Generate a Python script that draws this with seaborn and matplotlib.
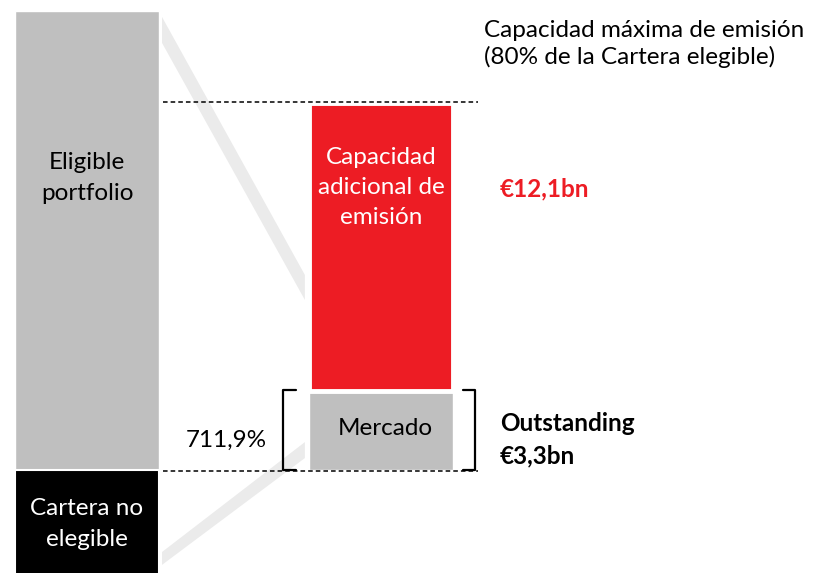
import numpy as np
import pandas as pd
import seaborn as sns
import matplotlib.pyplot as plt
from matplotlib.patches import Polygon

# valores en miles de millones de euros
columnas = ["Eligible portfolio", "Mercado"]
base = [19.25, 3.3]          # cartera elegible / emision en mercado
capacidad_adicional = 12.1   # apilado sobre Mercado
no_elegible = 4.5            # hacia abajo, recortado por el borde
cobertura = "711,9%"

gris = "#bfbfbf"
rojo = "#ed1c24"
banda = "#ebebeb"

sns.set_style("white")
plt.rcParams['font.family'] = ['Lato', 'DejaVu Sans']
plt.rcParams['text.color'] = 'black'

fig = plt.figure(figsize=(8.15, 5.73), dpi=100)
ax = fig.add_axes([0, 0, 1, 1])

# bandas diagonales de fondo
ax.add_patch(Polygon([(0.255, 19.0), (0.255, 17.91), (0.741, 7.13), (0.741, 8.18)],
                     closed=True, color=banda, lw=0, zorder=0))
ax.add_patch(Polygon([(0.255, -3.44), (0.255, -3.98), (0.741, 0.50), (0.741, 1.17)],
                     closed=True, color=banda, lw=0, zorder=0))

df = pd.DataFrame({"col": columnas, "valor": base})
sns.barplot(df, x="col", y="valor", hue="col", palette=[gris, gris], legend=False,
            width=0.49, ax=ax, edgecolor="white", linewidth=1, zorder=2)
ax.bar(1, capacidad_adicional, bottom=base[1], width=0.49, color=rojo,
       edgecolor="white", linewidth=3.5, zorder=2)
ax.bar(0, -no_elegible, width=0.49, color="black", edgecolor="white", linewidth=1.5, zorder=2)

# lineas discontinuas
tope = base[1] + capacidad_adicional
ax.plot([0.259, 1.33], [tope + 0.05, tope + 0.05], color="black", lw=1.1, dashes=(3, 2), zorder=3)
ax.plot([0.259, 1.33], [-0.03, -0.03], color="black", lw=1.1, dashes=(3, 2), zorder=3)

# corchetes alrededor de Mercado
ax.plot([0.711, 0.667, 0.667, 0.711], [base[1] + 0.05, base[1] + 0.05, 0, 0], color="black", lw=1.6, zorder=3)
ax.plot([1.279, 1.320, 1.320, 1.279], [base[1] + 0.05, base[1] + 0.05, 0, 0], color="black", lw=1.6, zorder=3)

fs = 17.5
ax.text(0, 12.25, "Eligible\nportfolio", ha="center", va="center", fontsize=fs, linespacing=1.55)
ax.text(0, -2.27, "Cartera no\nelegible", ha="center", va="center", fontsize=fs,
        color="white", linespacing=1.6)
ax.text(0.473, 1.26, cobertura, ha="center", va="center", fontsize=fs)
ax.text(1.014, 1.76, "Mercado", ha="center", va="center", fontsize=fs)
ax.text(1.0, 11.83, "Capacidad\nadicional de\nemisión", ha="center", va="center", fontsize=fs,
        color="white", linespacing=1.53)
ax.text(1.405, 11.79, "€12,1bn", ha="left", va="center", fontsize=fs, color=rojo, fontweight="bold")
ax.text(1.405, 1.26, "Outstanding\n€3,3bn", ha="left", va="center", fontsize=fs,
        fontweight="bold", linespacing=1.5)
ax.text(1.35, 17.87, "Capacidad máxima de emisión\n(80% de la Cartera elegible)", ha="left",
        va="center", fontsize=fs, linespacing=1.28)

ax.set_xlim(-0.296, 2.476)
ax.set_ylim(-4.32, 19.71)
ax.axis("off")

fig.savefig("out.png", dpi=100)
